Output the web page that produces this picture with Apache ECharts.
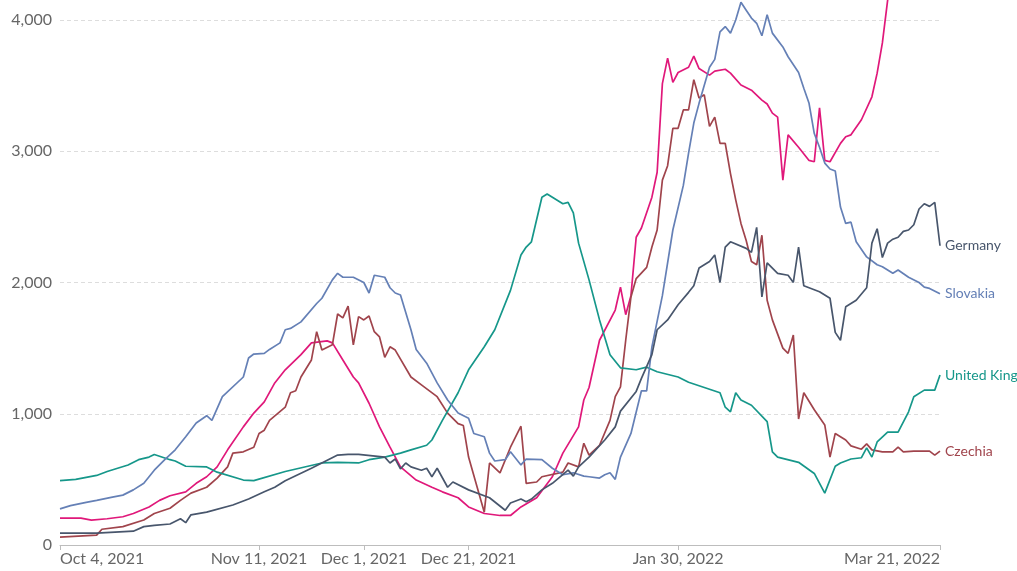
<!DOCTYPE html>
<html>
<head>
<meta charset="utf-8">
<script src="https://cdn.jsdelivr.net/npm/echarts@6/dist/echarts.min.js"></script>
<style>
  html, body { margin: 0; padding: 0; background: #fff; }
  #chart { width: 1017px; height: 571px; }
</style>
</head>
<body>
<div id="chart"></div>
<script>
// Day offsets are counted from Oct 4, 2021 (day 0) to Mar 21, 2022 (day 168)
const tickDays = [0, 38, 58, 78, 118, 168];
const tickLabels = ["Oct 4, 2021", "Nov 11, 2021", "Dec 1, 2021", "Dec 21, 2021", "Jan 30, 2022", "Mar 21, 2022"];
const yTicks = [0, 1000, 2000, 3000, 4000];

const germanyDays = [0,7,14,16,18,21,23,24,25,28,33,36,39,41,43,48,53,55,57,62,63,64,65,66,67,69,70,71,72,74,75,78,82,85,86,88,89,90,92,94,97,98,99,101,104,106,107,110,111,113,114,116,118,120,121,122,124,125,126,127,128,131,132,133,134,135,137,139,140,141,142,145,147,148,149,150,152,154,155,156,157,158,159,160,161,162,163,164,165,166,167,168];
const germanyValues = [90,90,105,140,150,160,200,170,230,250,305,350,405,440,490,585,685,690,690,670,625,655,580,625,595,570,585,520,585,440,480,420,360,265,320,350,330,350,420,470,570,525,595,670,800,900,1020,1170,1270,1450,1640,1715,1830,1925,1975,2110,2160,2210,2000,2270,2310,2260,2230,2420,1890,2150,2070,2055,2000,2270,1975,1930,1880,1620,1560,1815,1865,1960,2300,2410,2190,2300,2330,2345,2390,2400,2440,2560,2600,2580,2610,2280];

const slovakiaDays = [0,2,5,7,10,12,14,16,18,20,22,24,26,28,29,31,35,36,37,39,40,42,43,44,46,49,50,52,53,54,56,58,59,60,62,63,64,65,67,68,70,72,74,76,78,79,81,82,83,85,86,88,89,92,94,96,98,100,101,103,104,105,106,107,109,111,112,113,115,117,119,120,121,122,124,125,126,127,128,129,130,131,132,133,134,135,136,138,139,141,142,143,144,145,146,147,148,149,150,151,152,154,156,157,159,160,162,164,165,166,168];
const slovakiaValues = [275,300,325,340,365,380,420,470,570,650,725,825,930,985,950,1130,1280,1425,1455,1460,1490,1540,1640,1650,1700,1840,1880,2020,2070,2040,2040,2000,1920,2055,2040,1960,1920,1905,1640,1490,1385,1235,1105,1005,965,850,825,700,640,650,710,610,655,650,585,535,550,525,520,510,535,550,500,670,850,1175,1175,1510,1900,2400,2740,2985,3215,3365,3640,3700,3910,3950,3900,4000,4135,4075,4015,3975,3880,4040,3900,3795,3720,3600,3480,3365,3135,3030,2910,2865,2850,2575,2450,2460,2310,2195,2135,2120,2070,2095,2040,2000,1965,1955,1915];

const ukDays = [0,3,5,7,9,11,13,15,17,18,21,22,24,28,30,35,37,43,50,53,57,59,62,65,67,70,71,73,76,78,81,83,86,88,89,90,92,93,94,96,97,98,99,101,103,105,107,110,112,114,118,120,126,127,128,129,130,132,135,136,137,141,144,146,148,149,151,153,154,155,156,158,160,162,163,165,167,168];
const ukValues = [490,500,515,530,560,585,610,650,670,690,650,640,600,595,555,495,490,560,625,630,625,650,670,700,725,760,800,950,1160,1335,1510,1640,1940,2210,2270,2310,2650,2675,2650,2600,2610,2530,2300,2020,1715,1450,1350,1335,1355,1320,1280,1240,1160,1050,1015,1160,1105,1065,940,710,670,630,545,395,600,625,655,665,740,670,785,860,860,1015,1130,1180,1180,1295];

const czechiaDays = [0,7,8,12,16,18,21,23,25,28,30,32,33,35,37,38,39,40,43,44,45,46,48,49,50,52,53,54,55,56,57,58,59,60,61,62,63,64,67,69,72,74,76,77,78,81,82,84,86,88,89,91,92,96,97,99,100,101,103,105,106,107,108,109,110,112,113,114,115,116,117,118,119,120,121,122,123,124,125,126,127,128,129,130,131,132,133,134,135,136,138,139,140,141,142,144,146,147,148,150,151,153,154,155,157,159,160,161,163,166,167,168];
const czechiaValues = [60,75,120,140,190,240,280,340,395,440,510,595,700,710,745,850,875,950,1050,1160,1175,1280,1410,1625,1485,1525,1760,1730,1820,1525,1740,1715,1745,1625,1585,1430,1510,1485,1280,1220,1130,1005,925,910,670,250,625,550,745,905,470,480,520,555,625,595,775,685,760,950,1130,1205,1560,1890,2030,2115,2270,2400,2780,2890,3175,3175,3315,3315,3545,3405,3430,3190,3260,3060,3060,2830,2630,2450,2320,2160,2135,2360,1865,1715,1500,1460,1600,960,1160,1030,915,670,850,800,755,730,770,725,710,710,745,710,715,715,685,715];

const austriaDays = [0,4,6,9,12,14,17,19,21,24,26,28,30,32,35,37,39,41,43,46,48,51,52,54,56,57,59,61,63,65,68,71,73,76,78,81,84,86,88,91,94,96,99,100,101,103,106,107,108,109,110,111,113,114,115,116,117,118,120,121,122,124,125,127,128,130,132,134,135,136,137,138,139,141,143,144,145,146,147,149,150,151,153,155,156,157,158,160,163,166,168];
const austriaValues = [205,205,190,200,215,240,290,340,375,405,470,520,595,725,900,1005,1090,1235,1335,1450,1540,1555,1540,1410,1280,1235,1080,900,745,595,495,440,405,360,290,240,225,225,290,360,520,700,900,1105,1200,1560,1790,1965,1755,1900,2345,2415,2650,2840,3515,3710,3525,3600,3640,3725,3630,3580,3610,3625,3595,3505,3465,3390,3360,3290,3260,2780,3125,3030,2930,2920,3330,2930,2920,3060,3110,3125,3240,3415,3595,3825,4150,4600,5100,5500,5700];

const seriesDefs = [
  { name: "Austria", days: austriaDays, values: austriaValues, color: "#e0187a", label: false },
  { name: "Czechia", days: czechiaDays, values: czechiaValues, color: "#a0444c", label: true },
  { name: "United Kingdom", days: ukDays, values: ukValues, color: "#16978a", label: true },
  { name: "Slovakia", days: slovakiaDays, values: slovakiaValues, color: "#6580b6", label: true },
  { name: "Germany", days: germanyDays, values: germanyValues, color: "#48566c", label: true }
];

const chart = echarts.init(document.getElementById("chart"), null, { renderer: "canvas" });

const fmt = v => v.toLocaleString("en-US");

chart.setOption({
  animation: false,
  backgroundColor: "#ffffff",
  textStyle: { fontFamily: "Lato" },
  grid: { left: 60, right: 77, top: 20, bottom: 26, containLabel: false },
  xAxis: {
    type: "value",
    min: 0,
    max: 168,
    splitLine: { show: false },
    axisLine: { show: true, lineStyle: { color: "#bdbdbd", width: 1 } },
    axisTick: { show: true, length: 5, lineStyle: { color: "#bdbdbd" }, customValues: tickDays },
    axisLabel: {
      customValues: tickDays,
      formatter: v => tickLabels[tickDays.indexOf(v)] || "",
      color: "#666666",
      fontSize: 16,
      fontFamily: "Lato",
      margin: 6,
      alignMinLabel: "left",
      alignMaxLabel: "right"
    }
  },
  yAxis: {
    type: "value",
    min: 0,
    max: 4000,
    interval: 1000,
    axisLine: { show: false },
    axisTick: { show: false },
    splitLine: { show: true, lineStyle: { color: "#dddddd", type: [4, 3], width: 1 } },
    axisLabel: {
      formatter: v => fmt(v),
      color: "#666666",
      fontSize: 16,
      fontFamily: "Lato",
      margin: 8
    }
  },
  series: seriesDefs.map(s => ({
    type: "line",
    name: s.name,
    clip: false,
    showSymbol: false,
    symbol: "none",
    lineStyle: { color: s.color, width: 1.7 },
    itemStyle: { color: s.color },
    data: s.days.map((d, i) => [d, s.values[i]]),
    endLabel: {
      show: s.label,
      formatter: "{a}",
      color: s.color,
      fontSize: 14,
      fontFamily: "Lato",
      distance: 5
    },
    emphasis: { disabled: true }
  }))
});
</script>
</body>
</html>
